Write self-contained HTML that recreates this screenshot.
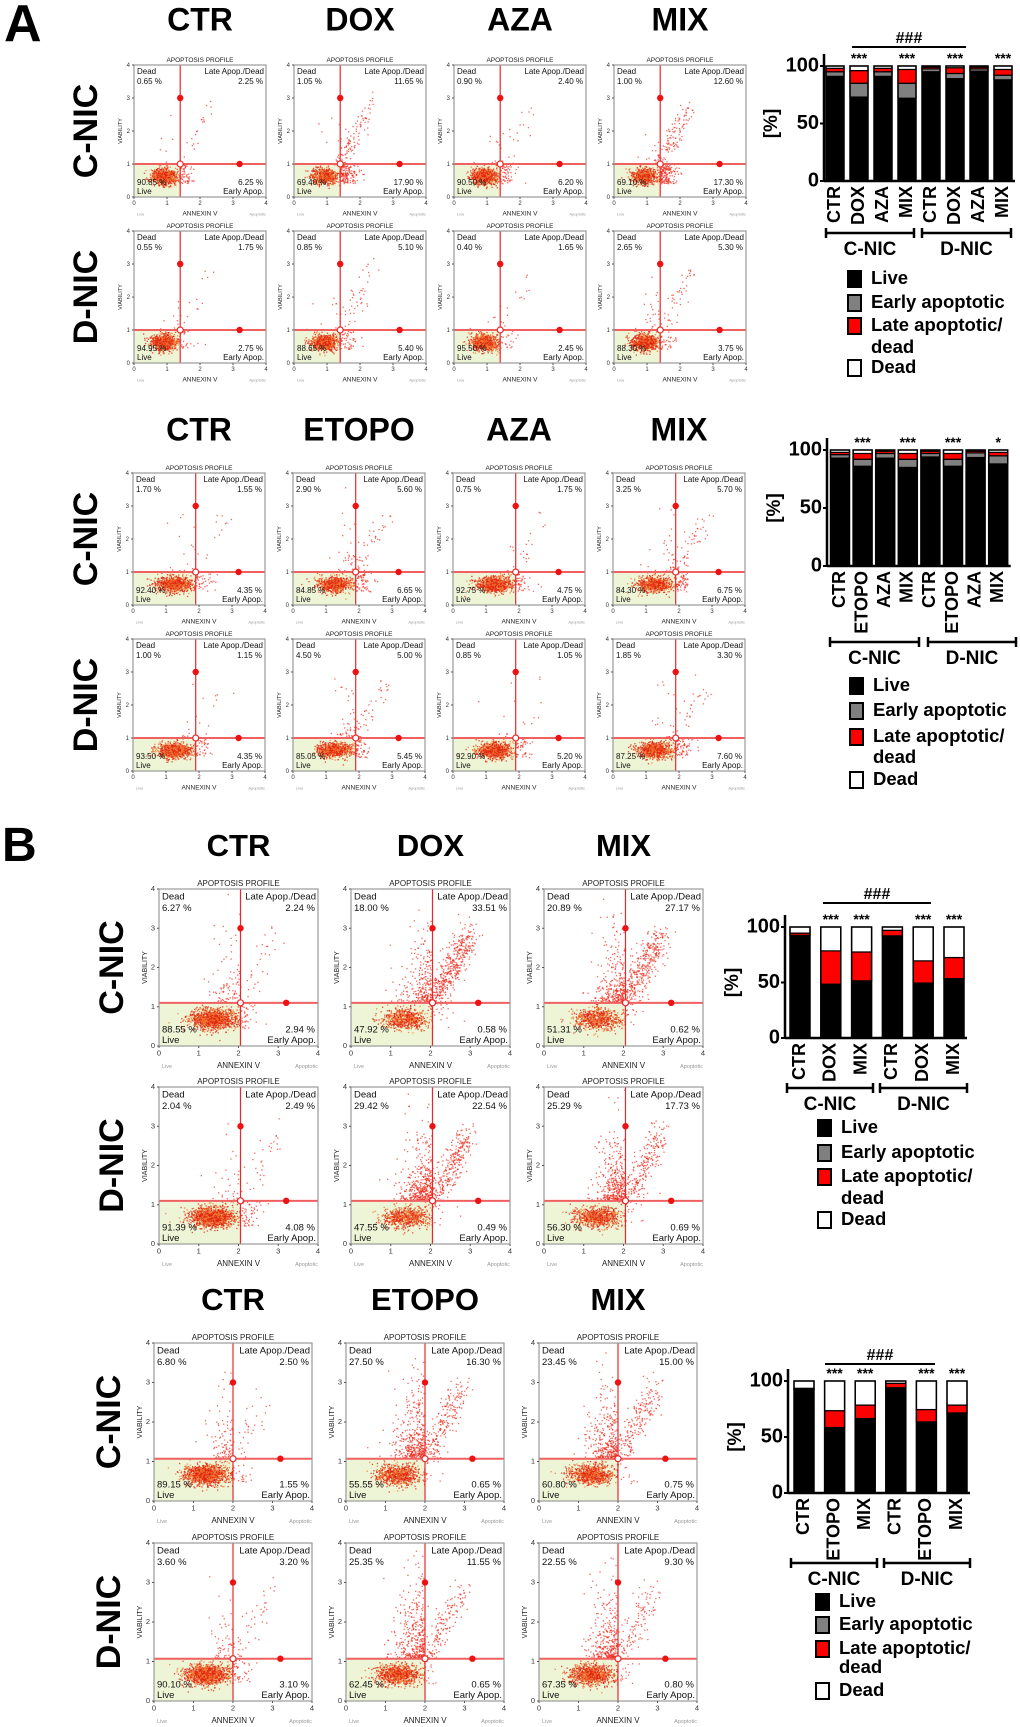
<!DOCTYPE html>
<html><head><meta charset="utf-8"><style>
html,body{margin:0;padding:0;background:#fff;}
svg{display:block;font-family:"Liberation Sans",Arial,sans-serif;}
</style></head><body>
<svg id="fig" width="1020" height="1727" viewBox="0 0 1020 1727" xmlns="http://www.w3.org/2000/svg">
<text x="4" y="41" font-size="52" font-weight="bold">A</text>
<text x="2" y="861" font-size="48" font-weight="bold">B</text>
</svg>
<script>
// ---- data: flow cytometry quadrant percentages [dead, late, live, early] ----
const a1Cols = ["CTR","DOX","AZA","MIX"];
const a1C = [[0.65,2.25,90.85,6.25],[1.05,11.65,69.40,17.90],[0.90,2.40,90.50,6.20],[1.00,12.60,69.10,17.30]];
const a1D = [[0.55,1.75,94.95,2.75],[0.85,5.10,88.65,5.40],[0.40,1.65,95.50,2.45],[2.65,5.30,88.30,3.75]];
const a2Cols = ["CTR","ETOPO","AZA","MIX"];
const a2C = [[1.70,1.55,92.40,4.35],[2.90,5.60,84.85,6.65],[0.75,1.75,92.75,4.75],[3.25,5.70,84.30,6.75]];
const a2D = [[1.00,1.15,93.50,4.35],[4.50,5.00,85.05,5.45],[0.85,1.05,92.90,5.20],[1.85,3.30,87.25,7.60]];
const b1Cols = ["CTR","DOX","MIX"];
const b1C = [[6.27,2.24,88.55,2.94],[18.00,33.51,47.92,0.58],[20.89,27.17,51.31,0.62]];
const b1D = [[2.04,2.49,91.39,4.08],[29.42,22.54,47.55,0.49],[25.29,17.73,56.30,0.69]];
const b2Cols = ["CTR","ETOPO","MIX"];
const b2C = [[6.80,2.50,89.15,1.55],[27.50,16.30,55.55,0.65],[23.45,15.00,60.80,0.75]];
const b2D = [[3.60,3.20,90.10,3.10],[25.35,11.55,62.45,0.65],[22.55,9.30,67.35,0.80]];
const scatterTicks = ["0","1","2","3","4"];

// ---- data: stacked bar charts (live, early, late, dead) ----
const barA1Cats = ["CTR","DOX","AZA","MIX","CTR","DOX","AZA","MIX"];
const barA1Live = [91,73,91,72,95,89,95.5,88];
const barA1Early = [4,12,4,13,2.5,4.5,2,4];
const barA1Late = [3,11,3,12,1.5,5,1.5,5];
const barA1Dead = [2,4,2,3,1,1.5,1,3];
const barA1Stars = ["","***","","***","","***","","***"];
const barA2Cats = ["CTR","ETOPO","AZA","MIX","CTR","ETOPO","AZA","MIX"];
const barA2Live = [93,86,93,85,94,86,93.5,88];
const barA2Early = [3,6,4,7,3,6,4,7];
const barA2Late = [2,5,2,5,2,5,1.5,3];
const barA2Dead = [2,3,1,3,1,3,1,2];
const barA2Stars = ["","***","","***","","***","","*"];
const barB1Cats = ["CTR","DOX","MIX","CTR","DOX","MIX"];
const barB1Live = [92,48,51,91,49,53];
const barB1Early = [0.5,0.5,0.5,1,0.5,0.5];
const barB1Late = [2,30,26,5,20,19];
const barB1Dead = [5.5,21.5,22.5,3,30.5,27.5];
const barB1Stars = ["","***","***","","***","***"];
const barB2Cats = ["CTR","ETOPO","MIX","CTR","ETOPO","MIX"];
const barB2Live = [92,58,66,93,63,71];
const barB2Early = [0.5,0.5,0.5,1,0.5,0.5];
const barB2Late = [1,15,12,4,11,7];
const barB2Dead = [6.5,26.5,21.5,2,25.5,21.5];
const barB2Stars = ["","***","***","","***","***"];
const barTicks = [0,50,100];
const groupNames = ["C-NIC","D-NIC"];
const legendNames = ["Live","Early apoptotic","Late apoptotic/","Dead"];

const NS = "http://www.w3.org/2000/svg";
const svg = document.getElementById("fig");
function mk(tag, attrs, parent, txt){
  const e = document.createElementNS(NS, tag);
  for (const k in attrs) e.setAttribute(k, attrs[k]);
  if (txt !== undefined) e.textContent = txt;
  (parent || svg).appendChild(e);
  return e;
}
let seed = 12345;
function rnd(){ seed = (seed*1664525 + 1013904223) % 4294967296; return seed/4294967296; }
function gauss(){ let u=rnd()||1e-6, v=rnd(); return Math.sqrt(-2*Math.log(u))*Math.cos(2*Math.PI*v); }

function header(txt, x, y, fs){
  const t = mk("text",{x:x,y:y,"font-size":fs,"font-weight":"bold","text-anchor":"middle","dominant-baseline":"middle"},svg,txt);
  
  
}
function rowLabel(txt, x, y, fs){
  const t = mk("text",{x:0,y:0,"font-size":fs,"font-weight":"bold","text-anchor":"middle","dominant-baseline":"middle",transform:`translate(${x},${y}) rotate(-90)`},svg,txt);
  
  
}

function scatter(x0, y0, w, h, pct, thrX, thrY, fs, N){
  const g = mk("g",{});
  
  
  const sx = v => x0 + v/4*w, sy = v => y0 + h - v/4*h;
  const tx = sx(thrX), ty = sy(thrY);
  const bg = mk("rect",{x:x0,y:ty,width:tx-x0,height:y0+h-ty,fill:"#eef4d6"},g);
  
  
  const pg = mk("g",{},g);
  
  
  const counts = pct.map(p => Math.round(p/100*N));
  function dot(vx, vy, col, op){
    if (vx<0.02||vx>3.98||vy<0.02||vy>3.98) return;
    const r = mk("rect",{x:(sx(vx)-0.6).toFixed(1),y:(sy(vy)-0.6).toFixed(1),width:1.3,height:1.3,fill:col,"fill-opacity":op},pg);
    
    
  }
  for (let i=0;i<counts[2];i++){
    let vx = thrX*0.66 + gauss()*thrX*0.14, vy = thrY*0.62 + gauss()*thrY*0.12;
    vx = Math.min(vx, thrX-0.01); vy = Math.min(vy, thrY-0.01);
    const c = rnd()<0.55 ? "#e02010" : "#f07a30";
    dot(vx, vy, c, 0.8);
  }
  for (let i=0;i<counts[3];i++){
    dot(thrX + Math.abs(gauss())*0.25, thrY*0.4 + rnd()*thrY*0.58, "#ee2a1a", 0.7);
  }
  for (let i=0;i<counts[1];i++){
    const t = rnd();
    dot(thrX + 0.02 + t*0.9 + gauss()*0.15, thrY + 0.02 + t*1.7 + gauss()*0.2, "#ee2a1a", 0.7);
  }
  for (let i=0;i<counts[0];i++){
    const t = rnd();
    dot(thrX - 0.02 - Math.abs(gauss())*0.35, thrY + 0.02 + t*1.6*Math.abs(gauss()*0.8+0.3), "#ee2a1a", 0.7);
  }
  mk("line",{x1:tx,y1:y0,x2:tx,y2:y0+h,stroke:"#e8282a","stroke-width":1.2},g);
  mk("line",{x1:x0,y1:ty,x2:x0+w,y2:ty,stroke:"#f06060","stroke-width":2},g);
  mk("circle",{cx:tx,cy:sy(3),r:3.2,fill:"#ee1111"},g);
  mk("circle",{cx:sx(3.2),cy:ty,r:3.2,fill:"#ee1111"},g);
  mk("circle",{cx:tx,cy:ty,r:3,fill:"#fff",stroke:"#e8282a","stroke-width":1.2},g);
  mk("rect",{x:x0,y:y0,width:w,height:h,fill:"none",stroke:"#999","stroke-width":1.2},g);
  for (let i=0;i<5;i++){
    mk("line",{x1:x0-2,y1:sy(i),x2:x0,y2:sy(i),stroke:"#555"},g);
    mk("text",{x:x0-4,y:sy(i)+2,"font-size":fs-2,"text-anchor":"end",fill:"#333"},g,scatterTicks[i]);
    mk("line",{x1:sx(i),y1:y0+h,x2:sx(i),y2:y0+h+2,stroke:"#555"},g);
    mk("text",{x:sx(i),y:y0+h+fs,"font-size":fs-2,"text-anchor":"middle",fill:"#333"},g,scatterTicks[i]);
  }
  mk("text",{x:x0+w/2,y:y0-3,"font-size":fs-1.5,"text-anchor":"middle",fill:"#222"},g,"APOPTOSIS PROFILE");
  mk("text",{x:0,y:0,"font-size":fs-2.5,"text-anchor":"middle",fill:"#222",transform:`translate(${x0-12},${y0+h/2}) rotate(-90)`},g,"VIABILITY");
  mk("text",{x:x0+w/2,y:y0+h+fs*2.3,"font-size":fs-1.5,"text-anchor":"middle",fill:"#222"},g,"ANNEXIN V");
  mk("text",{x:x0+3,y:y0+h+fs*2.3,"font-size":fs-4,fill:"#999"},g,"Live");
  mk("text",{x:x0+w,y:y0+h+fs*2.3,"font-size":fs-4,"text-anchor":"end",fill:"#999"},g,"Apoptotic");
  const f = v => v.toFixed(2)+" %";
  mk("text",{x:x0+3,y:y0+fs+1,"font-size":fs,fill:"#111"},g,"Dead");
  mk("text",{x:x0+3,y:y0+2*fs+3,"font-size":fs,fill:"#111"},g,f(pct[0]));
  mk("text",{x:x0+w-2,y:y0+fs+1,"font-size":fs,"text-anchor":"end",fill:"#111"},g,"Late Apop./Dead");
  mk("text",{x:x0+w-3,y:y0+2*fs+3,"font-size":fs,"text-anchor":"end",fill:"#111"},g,f(pct[1]));
  mk("text",{x:x0+3,y:y0+h-fs-4,"font-size":fs,fill:"#111"},g,f(pct[2]));
  mk("text",{x:x0+3,y:y0+h-3,"font-size":fs,fill:"#111"},g,"Live");
  mk("text",{x:x0+w-3,y:y0+h-fs-4,"font-size":fs,"text-anchor":"end",fill:"#111"},g,f(pct[3]));
  mk("text",{x:x0+w-2,y:y0+h-3,"font-size":fs,"text-anchor":"end",fill:"#111"},g,"Early Apop.");
}

function scatterBlock(cfg){
  cfg.names.forEach((n,i)=> header(n, cfg.cols[i]+cfg.w/2, cfg.hy, cfg.hfs));
  rowLabel("C-NIC", cfg.rx, cfg.rows[0]+cfg.h/2, cfg.rfs);
  rowLabel("D-NIC", cfg.rx, cfg.rows[1]+cfg.h/2, cfg.rfs);
  [cfg.c, cfg.d].forEach((row, r)=> row.forEach((p,i)=>
    scatter(cfg.cols[i], cfg.rows[r], cfg.w, cfg.h, p, cfg.tx, cfg.ty, cfg.fs, cfg.N)));
}
scatterBlock({names:a1Cols,c:a1C,d:a1D,cols:[134,294,454,614],rows:[65,231],w:132,h:132,tx:1.4,ty:1.0,fs:8,N:900,hy:22,hfs:32,rfs:34,rx:88});
scatterBlock({names:a2Cols,c:a2C,d:a2D,cols:[133,293,453,613],rows:[473,639],w:132,h:132,tx:1.9,ty:1.0,fs:8,N:900,hy:432,hfs:32,rfs:34,rx:88});
scatterBlock({names:b1Cols,c:b1C,d:b1D,cols:[159,351,544],rows:[889,1087],w:159,h:157,tx:2.05,ty:1.1,fs:9.5,N:1400,hy:848,hfs:31,rfs:34,rx:114});
scatterBlock({names:b2Cols,c:b2C,d:b2D,cols:[154,346,539],rows:[1343,1543],w:158,h:158,tx:2.0,ty:1.07,fs:9.5,N:1400,hy:1302,hfs:31,rfs:34,rx:111});

function barChart(c){
  const g = mk("g",{});
  
  
  const sy = v => c.y0 - v/100*(c.y0-c.y100);
  const n = c.cats.length;
  const right = c.first + c.pitch*(n-1) + c.bw/2 + 3;
  for (let i=0;i<n;i++){
    const cx = c.first + c.pitch*i, x = cx - c.bw/2;
    const segs = [[c.live[i],"#000"],[c.early[i],"#808080"],[c.late[i],"#ff0000"],[c.dead[i],"#fff"]];
    let acc = 0;
    segs.forEach(([v,col],k)=>{
      const r = mk("rect",{x:x,y:sy(acc+v),width:c.bw,height:Math.max(0,sy(acc)-sy(acc+v)),fill:col,stroke:"#000","stroke-width":k===0?0:1.2},g);
      
      
      acc += v;
    });
    mk("rect",{x:x,y:sy(100),width:c.bw,height:sy(0)-sy(100),fill:"none",stroke:"#000","stroke-width":1.5},g);
    if (c.stars[i]) mk("text",{x:cx,y:sy(100)-3,"font-size":14,"font-weight":"bold","text-anchor":"middle"},g,c.stars[i]);
    const t = mk("text",{x:0,y:0,"font-size":18,"font-weight":"bold","text-anchor":"end","dominant-baseline":"middle",transform:`translate(${cx},${c.y0+5}) rotate(-90)`},g,c.cats[i]);
    
    
  }
  mk("line",{x1:c.ax,y1:c.y0,x2:right,y2:c.y0,stroke:"#000","stroke-width":2.5},g);
  mk("line",{x1:c.ax,y1:c.y0+1,x2:c.ax,y2:c.y100-12,stroke:"#000","stroke-width":2.5},g);
  barTicks.forEach(v=>{
    mk("line",{x1:c.ax-4,y1:sy(v),x2:c.ax,y2:sy(v),stroke:"#000","stroke-width":2},g);
    mk("text",{x:c.ax-5,y:sy(v),"font-size":20,"font-weight":"bold","text-anchor":"end","dominant-baseline":"middle"},g,String(v));
  });
  mk("text",{x:0,y:0,"font-size":19,"font-weight":"bold","text-anchor":"middle","dominant-baseline":"middle",transform:`translate(${c.ax-52},${(c.y0+c.y100)/2}) rotate(-90)`},g,"[%]");
  if (c.hash){
    mk("line",{x1:c.hash[0],y1:c.hash[2],x2:c.hash[1],y2:c.hash[2],stroke:"#000","stroke-width":2},g);
    mk("text",{x:(c.hash[0]+c.hash[1])/2,y:c.hash[2]-4,"font-size":16,"font-weight":"bold","text-anchor":"middle"},g,"###");
  }
  c.brackets.forEach((b,k)=>{
    mk("line",{x1:b[0],y1:c.by,x2:b[1],y2:c.by,stroke:"#000","stroke-width":2.5},g);
    mk("line",{x1:b[0],y1:c.by-5,x2:b[0],y2:c.by+5,stroke:"#000","stroke-width":2.5},g);
    mk("line",{x1:b[1],y1:c.by-5,x2:b[1],y2:c.by+5,stroke:"#000","stroke-width":2.5},g);
    const t = mk("text",{x:(b[0]+b[1])/2,y:c.by+17,"font-size":19,"font-weight":"bold","text-anchor":"middle","dominant-baseline":"middle"},g,groupNames[k]);
    
    
  });
  const cols = ["#000","#808080","#ff0000","#fff"];
  c.leg.forEach((ly,k)=>{
    const it = mk("g",{},g);
    
    
    mk("rect",{x:c.lx,y:ly-8,width:13,height:16,fill:cols[k],stroke:"#000","stroke-width":2},it);
    mk("text",{x:c.lx+23,y:ly,"font-size":18.5,"font-weight":"bold","dominant-baseline":"middle"},it,legendNames[k]);
  });
  mk("text",{x:c.lx+23,y:c.dl,"font-size":18.5,"font-weight":"bold","dominant-baseline":"middle"},g,"dead");
}
barChart({cats:barA1Cats,live:barA1Live,early:barA1Early,late:barA1Late,dead:barA1Dead,stars:barA1Stars,
  ax:824,y0:181,y100:66,first:835,pitch:24,bw:18,hash:[852,966,47],by:233,brackets:[[826,914],[922,1011]],lx:848,leg:[279,303,326,368],dl:348});
barChart({cats:barA2Cats,live:barA2Live,early:barA2Early,late:barA2Late,dead:barA2Dead,stars:barA2Stars,
  ax:827,y0:566,y100:450,first:840,pitch:22.6,bw:19,hash:null,by:642,brackets:[[830,919],[928,1016]],lx:850,leg:[686,711,737,780],dl:758});
barChart({cats:barB1Cats,live:barB1Live,early:barB1Early,late:barB1Late,dead:barB1Dead,stars:barB1Stars,
  ax:785,y0:1038,y100:927,first:800,pitch:30.8,bw:20,hash:[823,931,903],by:1088,brackets:[[787,873],[880,967]],lx:818,leg:[1128,1153,1177,1220],dl:1199});
barChart({cats:barB2Cats,live:barB2Live,early:barB2Early,late:barB2Late,dead:barB2Dead,stars:barB2Stars,
  ax:788,y0:1493,y100:1381,first:804,pitch:30.6,bw:20,hash:[825,935,1364],by:1563,brackets:[[791,877],[884,970]],lx:816,leg:[1602,1625,1649,1691],dl:1668});
</script>
</body></html>
